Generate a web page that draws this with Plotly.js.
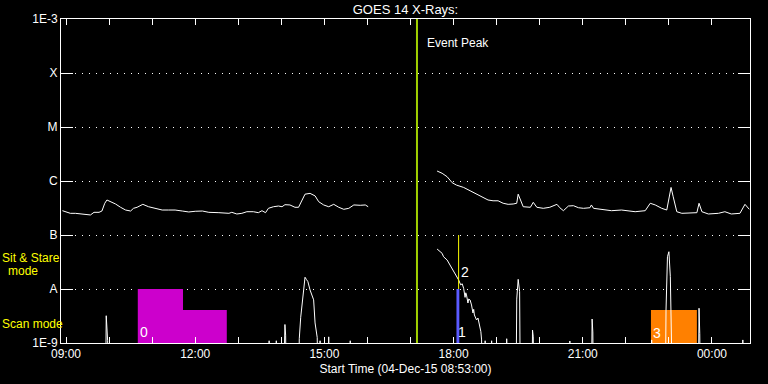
<!DOCTYPE html>
<html>
<head>
<meta charset="utf-8">
<script src="https://cdn.plot.ly/plotly-3.0.1.min.js"></script>
<style>
  html, body { margin: 0; padding: 0; background: #000; }
  #chart { width: 768px; height: 384px; }
</style>
</head>
<body>
<div id="chart"></div>
<script>
// ---- Data ----
// GOES 14 long channel (1-8 A), times HH:MM (after midnight = next day)
const longTime = ["08:55","08:59","09:06","09:13","09:20","09:27","09:34","09:39","09:46","09:50","09:54","09:57","10:02","10:09","10:16","10:23","10:30","10:34","10:39","10:47","10:55","11:04","11:14","11:23","11:32","11:42","11:51","12:00","12:10","12:19","12:27","12:33","12:47","12:51","12:58","13:05","13:12","13:21","13:28","13:33","13:38","13:42","13:49","13:56","14:01","14:05","14:12","14:19","14:24","14:29","14:33","14:40","14:47","14:52","14:59","15:06","15:13","15:20","15:27","15:34","15:41","15:50","15:57","16:01","16:02",
  "17:37","17:44","17:51","17:58","18:04","18:14","18:23","18:32","18:41","18:48","18:55","19:02","19:09","19:16","19:23","19:28","19:30","19:33","19:37","19:47","19:51","19:56","20:05","20:14","20:24","20:28","20:33","20:40","20:47","20:54","21:01","21:10","21:12","21:15","21:26","21:40","21:54","22:13","22:27","22:34","22:41","22:50","22:57","23:00","23:03","23:06","23:11","23:18","23:39","23:42","23:46","23:55","00:09","00:18","00:27","00:39","00:46","00:52"];
const longFlux = [2.82e-7,2.70e-7,2.52e-7,2.52e-7,2.45e-7,2.35e-7,2.35e-7,2.63e-7,2.63e-7,2.78e-7,3.87e-7,4.45e-7,4.14e-7,3.75e-7,3.26e-7,2.90e-7,2.78e-7,3.12e-7,3.26e-7,3.70e-7,3.34e-7,3.12e-7,2.90e-7,2.90e-7,2.90e-7,2.78e-7,2.67e-7,2.75e-7,2.78e-7,2.63e-7,2.63e-7,2.59e-7,2.52e-7,2.63e-7,2.45e-7,2.52e-7,2.70e-7,2.70e-7,2.59e-7,2.82e-7,2.59e-7,3.12e-7,3.34e-7,3.44e-7,3.34e-7,3.64e-7,3.60e-7,3.26e-7,3.26e-7,4.45e-7,5.7e-7,5.9e-7,5.3e-7,4.14e-7,3.60e-7,3.34e-7,3.70e-7,3.26e-7,2.99e-7,3.12e-7,3.60e-7,3.55e-7,3.60e-7,3.34e-7,null,
  1.53e-6,1.39e-6,1.20e-6,9.3e-7,8.4e-7,7.6e-7,6.6e-7,5.7e-7,5.0e-7,4.45e-7,4.3e-7,4.3e-7,3.87e-7,3.70e-7,3.75e-7,3.87e-7,5.7e-7,4.45e-7,3.34e-7,3.26e-7,4.03e-7,3.26e-7,3.12e-7,3.26e-7,3.70e-7,3.20e-7,2.82e-7,3.44e-7,3.49e-7,3.20e-7,3.12e-7,3.20e-7,3.60e-7,3.12e-7,2.99e-7,2.82e-7,2.90e-7,2.70e-7,2.82e-7,3.87e-7,3.60e-7,3.12e-7,2.90e-7,5.1e-7,7.6e-7,5.1e-7,2.70e-7,2.52e-7,2.59e-7,3.87e-7,2.70e-7,2.45e-7,2.52e-7,2.70e-7,2.45e-7,2.52e-7,3.70e-7,2.99e-7];

// GOES 14 short channel (0.5-4 A); 1e-10 = below the plotted range
const shortTime = ["08:53","09:55","09:56","09:57","09:58","09:59","13:42","13:43","13:44","13:52","13:53","13:54","14:03","14:04","14:05","14:06","14:07","14:24","14:25","14:27","14:29","14:31","14:33","14:35","14:37","14:40","14:43","14:45","14:47","14:50","14:51","14:53","14:54","14:55","15:05","15:06","15:07","15:35","15:36","15:37","16:01","16:02",
  "17:37","17:40","17:44","17:46","17:48","17:51","17:55","17:58","18:00","18:04","18:07","18:10","18:12","18:14","18:16","18:17","18:18","18:20","18:21","18:23","18:25","18:27","18:28","18:29","18:32","18:34","18:36","18:38","18:39","18:40","18:43","18:44","18:45","18:52","18:53","18:54","19:13","19:14","19:15","19:27","19:28","19:30","19:32","19:33","19:49","19:50","19:51","19:52","20:41","20:42","20:43","21:12","21:13","21:14","21:15","22:35","22:36","22:37","22:55","22:56","22:58","23:00","23:02","23:04","23:05","23:41","23:42","23:43","23:44","00:42","00:43","00:44","00:53"];
const shortFlux = [1e-10,1e-10,3.2e-9,1.9e-9,1.1e-9,1e-10,1e-10,1.1e-9,1e-10,1e-10,1.1e-9,1e-10,1e-10,1.7e-9,2.2e-9,1.4e-9,1e-10,1e-10,1.2e-9,3.0e-9,5.4e-9,1.0e-8,1.65e-8,1.5e-8,1.37e-8,9.6e-9,7.5e-9,6.3e-9,2.35e-9,1.26e-9,1e-10,1e-10,1.1e-9,1e-10,1e-10,1.3e-9,1e-10,1e-10,1.1e-9,1e-10,1e-10,null,
  5.5e-8,5.0e-8,4.58e-8,3.96e-8,3.7e-8,3.44e-8,2.78e-8,2.4e-8,2.09e-8,1.69e-8,1.47e-8,1.19e-8,1.25e-8,1.03e-8,7.0e-9,8.5e-9,7.74e-9,5.5e-9,6.5e-9,6.26e-9,5.06e-9,3.6e-9,4.2e-9,3.3e-9,2.67e-9,2.9e-9,2.15e-9,1.62e-9,1.14e-9,1e-10,1e-10,1.1e-9,1e-10,1e-10,1.1e-9,1e-10,1e-10,1.2e-9,1e-10,1e-10,6.5e-9,1.51e-8,8.9e-9,1e-10,1e-10,1.74e-9,1.3e-9,1e-10,1e-10,1.09e-9,1e-10,1e-10,2.78e-9,1.6e-9,1e-10,1e-10,1.14e-9,1e-10,1e-10,4.08e-9,3.96e-8,4.9e-8,1.69e-8,1.62e-9,1e-10,1e-10,4.4e-9,1.5e-9,1e-10,1e-10,1.14e-9,1e-10,1e-10];

// Observation windows (Scan / Sit & Stare), event peak
const obs0Time = ["10:40","10:40","11:43","11:43","12:44","12:44"];
const obs0Level = [1e-10,1e-8,1e-8,4.08e-9,4.08e-9,1e-10];
const obs1Time = ["18:04","18:04","18:08","18:08"];
const obs1Level = [1e-10,1e-8,1e-8,1e-10];
const obs2Time = ["18:07","18:07"];
const obs2Level = [1e-8,1e-7];
const obs3Time = ["22:35","22:35","23:39","23:39"];
const obs3Level = [1e-10,4.08e-9,4.08e-9,1e-10];
const eventPeak = "17:09";

const yTickVals = [1e-9,1e-8,1e-7,1e-6,1e-5,1e-4,1e-3];
const yTickText = ["1E-9","A","B","C","M","X","1E-3"];
const xTickHours = ["09:00","10:00","11:00","12:00","13:00","14:00","15:00","16:00","17:00","18:00","19:00","20:00","21:00","22:00","23:00","00:00"];
const xTickText = ["09:00","","","12:00","","","15:00","","","18:00","","","21:00","","","00:00"];

// ---- helpers ----
function toDate(hm) {
  const [h, m] = hm.split(":").map(Number);
  const day = h < 8 ? "2015-12-05" : "2015-12-04";
  return day + " " + String(h).padStart(2, "0") + ":" + String(m).padStart(2, "0") + ":00";
}
const FONT = "Liberation Sans, Arial, sans-serif";

const traces = [
  {x: obs0Time.map(toDate), y: obs0Level, type: "scatter", mode: "lines", fill: "toself",
   fillcolor: "#CC00CC", line: {width: 0, color: "#CC00CC"}, hoverinfo: "skip"},
  {x: obs1Time.map(toDate), y: obs1Level, type: "scatter", mode: "lines", fill: "toself",
   fillcolor: "#5A5AFF", line: {width: 0, color: "#5A5AFF"}, hoverinfo: "skip"},
  {x: obs3Time.map(toDate), y: obs3Level, type: "scatter", mode: "lines", fill: "toself",
   fillcolor: "#FF8000", line: {width: 0, color: "#FF8000"}, hoverinfo: "skip"},
  {x: longTime.map(toDate), y: longFlux, type: "scatter", mode: "lines",
   line: {color: "#FFFFFF", width: 1}, connectgaps: false},
  {x: shortTime.map(toDate), y: shortFlux, type: "scatter", mode: "lines",
   line: {color: "#FFFFFF", width: 1}, connectgaps: false},
  {x: obs2Time.map(toDate), y: obs2Level, type: "scatter", mode: "lines",
   line: {color: "#FFFF00", width: 1}},
  {x: [toDate(eventPeak), toDate(eventPeak)], y: [1e-9, 1e-3], type: "scatter", mode: "lines",
   line: {color: "#A0D000", width: 2}}
];

const yellow = {family: FONT, size: 12, color: "#FFFF00"};
const white = {family: FONT, size: 12, color: "#FFFFFF"};

const layout = {
  width: 768, height: 384,
  margin: {l: 61, r: 18, t: 19, b: 41, pad: 0},
  paper_bgcolor: "#000000", plot_bgcolor: "#000000",
  showlegend: false,
  title: {text: "GOES 14 X-Rays:", font: {family: FONT, size: 13, color: "#FFFFFF"},
          x: 0.5, xref: "paper", y: 0.975, yanchor: "middle"},
  xaxis: {
    type: "date",
    range: ["2015-12-04 08:53:00", "2015-12-05 00:53:00"],
    tickvals: xTickHours.map(toDate), ticktext: xTickText,
    ticks: "inside", ticklen: 6, tickcolor: "#FFFFFF", tickwidth: 1,
    showline: true, linecolor: "#FFFFFF", linewidth: 1, mirror: "allticks",
    showgrid: false, zeroline: false,
    tickfont: white,
    title: {text: "Start Time (04-Dec-15 08:53:00)", font: {family: FONT, size: 12, color: "#FFFFFF"}, standoff: 4}
  },
  yaxis: {
    type: "log", range: [-9, -3],
    tickvals: yTickVals, ticktext: yTickText,
    ticks: "inside", ticklen: 12, tickcolor: "#FFFFFF", tickwidth: 1,
    showline: true, linecolor: "#FFFFFF", linewidth: 1, mirror: "allticks",
    showgrid: true, gridcolor: "#FFFFFF", gridwidth: 1, griddash: "1px,6px",
    zeroline: false,
    tickfont: white
  },
  annotations: [
    {text: "Event Peak", xref: "x", yref: "paper", x: toDate(eventPeak), y: 0.926,
     xanchor: "left", yanchor: "middle", xshift: 8, showarrow: false, font: white},
    {text: "Sit &amp; Stare", xref: "paper", yref: "paper", x: (0 - 61) / 689, y: (343 - 258) / 324,
     xanchor: "left", yanchor: "middle", showarrow: false, font: yellow},
    {text: "mode", xref: "paper", yref: "paper", x: (6 - 61) / 689, y: (343 - 271) / 324,
     xanchor: "left", yanchor: "middle", showarrow: false, font: yellow},
    {text: "Scan mode", xref: "paper", yref: "paper", x: (0 - 61) / 689, y: (343 - 324) / 324,
     xanchor: "left", yanchor: "middle", showarrow: false, font: yellow},
    {text: "0", xref: "x", yref: "y", x: toDate(obs0Time[0]), y: -8.80, xanchor: "left", yanchor: "middle",
     showarrow: false, font: {family: FONT, size: 14, color: "#FFFFFF"}},
    {text: "1", xref: "x", yref: "y", x: toDate(obs1Time[0]), y: -8.80, xanchor: "left", yanchor: "middle",
     showarrow: false, font: {family: FONT, size: 14, color: "#FFFFFF"}},
    {text: "2", xref: "x", yref: "y", x: toDate(obs2Time[0]), y: -7.69, xanchor: "left", yanchor: "middle",
     showarrow: false, font: {family: FONT, size: 14, color: "#FFFFFF"}},
    {text: "3", xref: "x", yref: "y", x: toDate(obs3Time[0]), y: -8.82, xanchor: "left", yanchor: "middle",
     showarrow: false, font: {family: FONT, size: 14, color: "#FFFFFF"}}
  ]
};

Plotly.newPlot("chart", traces, layout, {displayModeBar: false, staticPlot: true});
</script>
</body>
</html>
